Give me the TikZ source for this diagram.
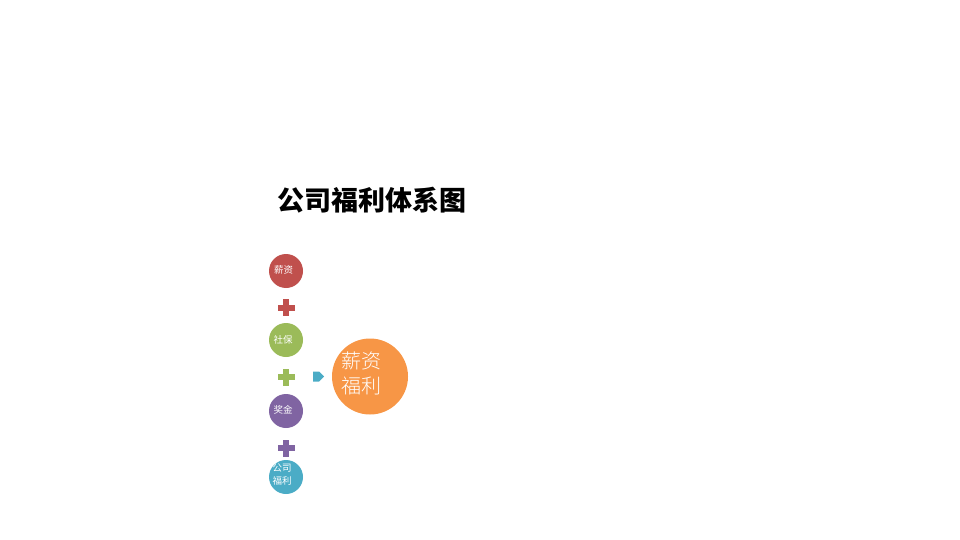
\documentclass[tikz,border=0pt]{standalone}
\usepackage{fontspec}
\newfontfamily\cjk{Noto Sans CJK SC}
\newfontfamily\cjklight{Noto Sans CJK SC Light}
\newfontfamily\cjkbold{Noto Sans CJK SC Black}
\definecolor{cred}{HTML}{C0504D}
\definecolor{cgreen}{HTML}{9BBB59}
\definecolor{cpurple}{HTML}{8064A2}
\definecolor{cteal}{HTML}{4BACC6}
\definecolor{corange}{HTML}{F79646}
\tikzset{
  small/.style={circle,minimum size=34pt,inner sep=0pt,fill=#1},
  smalltext/.style={text=white,font=\cjk\fontsize{9.5}{12.5}\selectfont,align=center,inner sep=0pt},
  big/.style={circle,minimum size=76pt,inner sep=0pt,fill=corange},
  bigtext/.style={text=white,font=\cjklight\fontsize{20}{25}\selectfont,align=center,inner sep=0pt},
}
\newcommand{\plussign}[2]{%
  \fill[#2] ($(#1)+(-8.5pt,-3pt)$) rectangle ($(#1)+(8.5pt,3pt)$);
  \fill[#2] ($(#1)+(-3pt,-8.5pt)$) rectangle ($(#1)+(3pt,8.5pt)$);}
\usetikzlibrary{calc}
\begin{document}
\begin{tikzpicture}[x=1pt,y=-1pt]
\useasboundingbox (0,0) rectangle (960,540);
\node[font=\cjkbold\fontsize{27}{30}\selectfont] (title) at (371.5,200) {公司福利体系图};
\node[small=cred] (c1) at (286,271) {};
\node[small=cgreen] (c2) at (286,340) {};
\node[small=cpurple] (c3) at (286,411) {};
\node[small=cteal] (c4) at (286,477) {};
\node[smalltext] (t1) at (283.5,270) {薪资};
\node[smalltext] (t2) at (283,340) {社保};
\node[smalltext] (t3) at (283,410) {奖金};
\node[smalltext] (t4) at (282,474.5) {公司\\福利};
\coordinate (p1) at (286,307.5);
\coordinate (p2) at (286,377);
\coordinate (p3) at (286,448);
\plussign{p1}{cred}
\plussign{p2}{cgreen}
\plussign{p3}{cpurple}
\coordinate (ar) at (318.5,376.5);
\fill[cteal] ($(ar)+(-5.5pt,-5pt)$) -- ($(ar)+(0.5pt,-5pt)$) -- ($(ar)+(5.5pt,0pt)$) -- ($(ar)+(0.5pt,5pt)$) -- ($(ar)+(-5.5pt,5pt)$) -- cycle;
\node[big] (res) at (370,376.5) {};
\node[bigtext] (rest) at (361.5,373.5) {薪资\\福利};
\end{tikzpicture}
\end{document}
